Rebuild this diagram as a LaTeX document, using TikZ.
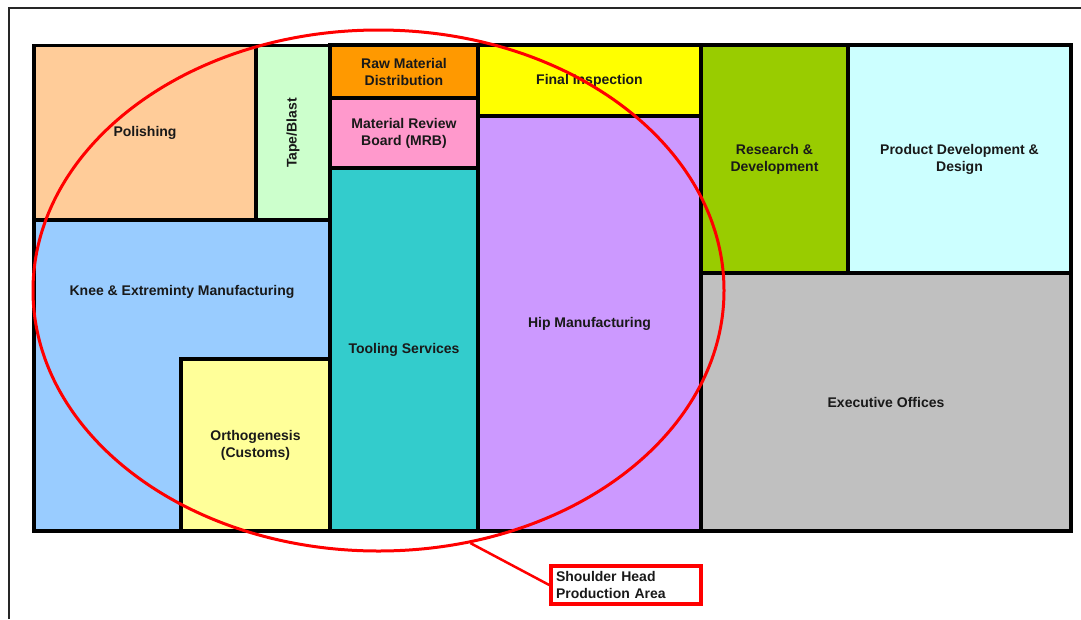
\documentclass[tikz,border=0pt]{standalone}
\usepackage{fontspec}
\setmainfont{Liberation Sans}
\usetikzlibrary{shapes.geometric}
\definecolor{polish}{HTML}{FFCC99}
\definecolor{tape}{HTML}{CCFFCC}
\definecolor{rawmat}{HTML}{FF9900}
\definecolor{mrb}{HTML}{FF99CC}
\definecolor{tooling}{HTML}{33CCCC}
\definecolor{inspect}{HTML}{FFFF00}
\definecolor{hip}{HTML}{CC99FF}
\definecolor{research}{HTML}{99CC00}
\definecolor{product}{HTML}{CCFFFF}
\definecolor{offices}{HTML}{C0C0C0}
\definecolor{knee}{HTML}{99CCFF}
\definecolor{ortho}{HTML}{FFFF99}
\tikzset{
    x=1pt, y=-1pt, % Pixel-like units, y runs downwards
    label text/.style={ % Sets the font of every text in the plan
        font=\bfseries\fontsize{14}{17}\selectfont,
        text=black!90
    },
    room/.style={ % Sets the properties for each area of the floor
        label text,
        draw, line width=3.5pt,
        rectangle, inner sep=0pt,
        align=center
    },
    zone/.style={ % The marked production area
        ellipse, draw=red,
        line width=3pt,
        inner sep=0pt
    },
    note/.style={ % Box with the name of the marked area
        label text,
        draw=red, line width=3.5pt,
        align=left, text width=140pt,
        inner xsep=5pt, inner ysep=0pt
    },
    callout/.style={draw=red, line width=2.5pt}
}
\begin{document}
\begin{tikzpicture}
        \useasboundingbox (0,0) rectangle (1081,619);
        \draw[line width=2.5pt, black!85] (9,619) |- (1081,8);
        \node[room, fill=polish, minimum width=222, minimum height=175] (polishing) at (145,133) {Polishing};
        \node[room, fill=tape, minimum width=175, minimum height=74, rotate=90] (tapeblast) at (293,133) {Tape/Blast};
        \node[room, fill=knee, minimum width=296, minimum height=311] (knee) at (182,375.5) {};
        \node[label text] (kneetext) at (182,292) {Knee \& Extreminty Manufacturing};
        \node[room, fill=ortho, minimum width=149, minimum height=172] (ortho) at (255.5,445) {Orthogenesis\\(Customs)};
        \node[room, fill=rawmat, minimum width=148, minimum height=53] (rawmat) at (404,71.5) {Raw Material\\Distribution};
        \node[room, fill=mrb, minimum width=148, minimum height=70] (mrb) at (404,133) {Material Review\\Board (MRB)};
        \node[room, fill=tooling, minimum width=148, minimum height=363] (tooling) at (404,349.5) {Tooling Services};
        \node[room, fill=inspect, minimum width=223, minimum height=71] (inspect) at (589.5,80.5) {Final Inspection};
        \node[room, fill=hip, minimum width=223, minimum height=415] (hip) at (589.5,323.5) {Hip Manufacturing};
        \node[room, fill=research, minimum width=147, minimum height=228] (research) at (774.5,159) {Research \&\\Development};
        \node[room, fill=product, minimum width=223, minimum height=228] (product) at (959.5,159) {Product Development \&\\Design};
        \node[room, fill=offices, minimum width=370, minimum height=258] (offices) at (886,402) {Executive Offices};

        % shoulder head area
        \node[zone, minimum width=691, minimum height=521] (shoulderzone) at (378.5,290.5) {};
        \node[note, minimum width=150, minimum height=38] (shoulder) at (626,585) {Shoulder Head\\Production Area};
        \draw[callout] (shoulderzone.-70) -- (shoulder.west);
    \end{tikzpicture}
\end{document}
